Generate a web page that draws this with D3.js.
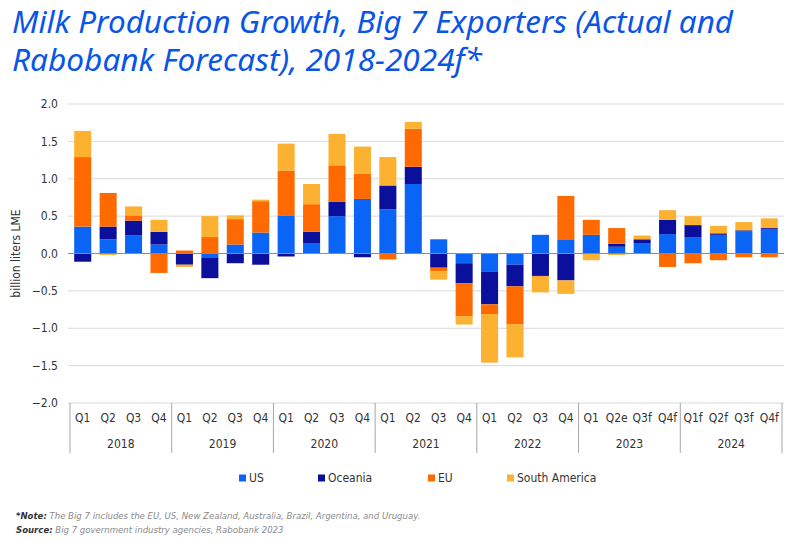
<!DOCTYPE html>
<html>
<head>
<meta charset="utf-8">
<script src="https://cdn.jsdelivr.net/npm/d3@7"></script>
<style>
body { margin: 0; background: #fff; }
svg text { font-family: "Liberation Sans Narrow", "DejaVu Sans Condensed", "Noto Sans", sans-serif; }
</style>
</head>
<body>
<svg width="795" height="543"></svg>
<script>
// quarters and years
var quarters = ["Q1","Q2","Q3","Q4","Q1","Q2","Q3","Q4","Q1","Q2","Q3","Q4","Q1","Q2","Q3","Q4",
                "Q1","Q2","Q3","Q4","Q1","Q2e","Q3f","Q4f","Q1f","Q2f","Q3f","Q4f"];
var years = ["2018","2019","2020","2021","2022","2023","2024"];
var seriesNames = ["US","Oceania","EU","South America"];
var colors = ["#0a64f5","#0a0f9c","#ff6a00","#fcb130"];

// billion liters LME
var us      = [0.36,0.19,0.24,0.12, 0.00,-0.06,0.12,0.28, 0.51,0.14,0.50,0.73, 0.59,0.93,0.19,-0.13, -0.24,-0.15,0.25,0.19, 0.25,0.09,0.14,0.26, 0.22,0.25,0.30,0.32];
var oceania = [-0.11,0.17,0.20,0.17, -0.15,-0.27,-0.13,-0.15, -0.04,0.15,0.19,-0.05, 0.32,0.23,-0.19,-0.27, -0.44,-0.29,-0.30,-0.36, 0.00,0.04,0.05,0.19, 0.16,0.02,0.01,0.02];
var eu      = [0.93,0.45,0.07,-0.26, 0.04,0.22,0.34,0.42, 0.60,0.37,0.49,0.34, -0.08,0.51,-0.05,-0.44, -0.13,-0.51,-0.01,0.58, 0.20,0.21,0.00,-0.18, -0.13,-0.09,-0.05,-0.05];
var southAm = [0.35,-0.02,0.12,0.16, -0.03,0.28,0.05,0.02, 0.36,0.27,0.42,0.36, 0.38,0.09,-0.11,-0.11, -0.65,-0.44,-0.21,-0.18, -0.09,-0.02,0.05,0.13, 0.12,0.10,0.11,0.13];
var yTicks = [2.0,1.5,1.0,0.5,0.0,-0.5,-1.0,-1.5,-2.0];

var svg = d3.select("svg");
var margin = {top: 104, left: 70, right: 13, bottom: 140};
var width = 795 - margin.left - margin.right,
    height = 543 - margin.top - margin.bottom;

var rows = quarters.map(function(q, i) {
  return {i: i, "US": us[i], "Oceania": oceania[i], "EU": eu[i], "South America": southAm[i]};
});

var x = d3.scaleBand().domain(d3.range(quarters.length)).range([0, width]).paddingInner(0.33).paddingOuter(0.165);
var y = d3.scaleLinear().domain([-2, 2]).range([height, 0]);
var color = d3.scaleOrdinal().domain(seriesNames).range(colors);

var stack = d3.stack().keys(seriesNames).offset(d3.stackOffsetDiverging);
var stacked = stack(rows);

// title
var title = svg.append("g").attr("fill", "#0a55e6").style("font-style", "italic");
title.append("text").attr("x", 12).attr("y", 33).attr("font-size", 31)
  .style("font-family", "'Noto Sans', sans-serif")
  .attr("textLength", 721).attr("lengthAdjust", "spacingAndGlyphs")
  .text("Milk Production Growth, Big 7 Exporters (Actual and");
title.append("text").attr("x", 12).attr("y", 71).attr("font-size", 31)
  .style("font-family", "'Noto Sans', sans-serif")
  .attr("textLength", 470).attr("lengthAdjust", "spacingAndGlyphs")
  .text("Rabobank Forecast), 2018-2024f*");

var g = svg.append("g").attr("transform", "translate(" + margin.left + "," + margin.top + ")");

// gridlines
g.selectAll(".grid").data(yTicks).enter().append("line")
  .attr("x1", -2).attr("x2", width + 2)
  .attr("y1", function(d) { return y(d); }).attr("y2", function(d) { return y(d); })
  .attr("stroke", "#d9d9d9").attr("stroke-width", 1);

// y axis labels
g.selectAll(".ylab").data(yTicks).enter().append("text")
  .attr("x", -12).attr("y", function(d) { return y(d); }).attr("dy", "0.35em")
  .attr("text-anchor", "end").attr("font-size", 12).attr("fill", "#333")
  .text(function(d) { return d3.format(".1f")(d); });

svg.append("text")
  .attr("transform", "translate(20," + (margin.top + y(0)) + ") rotate(-90)")
  .attr("text-anchor", "middle").attr("font-size", 12).attr("fill", "#333")
  .text("billion liters LME");

// bars
g.selectAll(".series").data(stacked).enter().append("g")
  .attr("fill", function(d) { return color(d.key); })
  .selectAll("rect").data(function(d) { return d; }).enter().append("rect")
  .attr("x", function(d) { return x(d.data.i); })
  .attr("width", x.bandwidth())
  .attr("y", function(d) { return y(Math.max(d[0], d[1])); })
  .attr("height", function(d) { return Math.abs(y(d[0]) - y(d[1])); });

// zero line
g.append("line").attr("x1", -2).attr("x2", width + 2)
  .attr("y1", y(0)).attr("y2", y(0))
  .attr("stroke", "#8c8c8c").attr("stroke-width", 1);

// category axis
var step = x.step();
var xStart = 0;
var axis = g.append("g").attr("transform", "translate(0," + height + ")");
axis.selectAll(".qlab").data(quarters).enter().append("text")
  .attr("x", function(d, i) { return x(i) + x.bandwidth() / 2; })
  .attr("y", 19).attr("text-anchor", "middle").attr("font-size", 12).attr("fill", "#333")
  .text(function(d) { return d; });
axis.selectAll(".ylab2").data(years).enter().append("text")
  .attr("x", function(d, i) { return xStart + (i * 4 + 2) * step; })
  .attr("y", 45).attr("text-anchor", "middle").attr("font-size", 12).attr("fill", "#333")
  .text(function(d) { return d; });
axis.selectAll(".sep").data(d3.range(years.length + 1)).enter().append("line")
  .attr("x1", function(d) { return xStart + d * 4 * step; })
  .attr("x2", function(d) { return xStart + d * 4 * step; })
  .attr("y1", 0).attr("y2", 50)
  .attr("stroke", "#a6a6a6").attr("stroke-width", 1);

// legend
var legendX = [239, 318, 428, 507];
var legend = svg.selectAll(".legend").data(seriesNames).enter().append("g")
  .attr("transform", function(d, i) { return "translate(" + legendX[i] + ",478)"; });
legend.append("rect").attr("x", 0).attr("y", -3.5).attr("width", 7).attr("height", 7)
  .attr("fill", function(d) { return color(d); });
legend.append("text").attr("x", 10).attr("dy", "0.35em").attr("font-size", 12).attr("fill", "#333")
  .text(function(d) { return d; });

// footnote
var foot = svg.append("g").attr("font-size", 9.5).attr("fill", "#8a8a8a").style("font-style", "italic");
var f1 = foot.append("text").attr("x", 16).attr("y", 519);
f1.append("tspan").attr("font-weight", "bold").attr("fill", "#333").text("*Note:");
f1.append("tspan").text(" The Big 7 includes the EU, US, New Zealand, Australia, Brazil, Argentina, and Uruguay.");
var f2 = foot.append("text").attr("x", 16).attr("y", 533);
f2.append("tspan").attr("font-weight", "bold").attr("fill", "#333").text("Source:");
f2.append("tspan").text(" Big 7 government industry agencies, Rabobank 2023");
</script>
</body>
</html>
